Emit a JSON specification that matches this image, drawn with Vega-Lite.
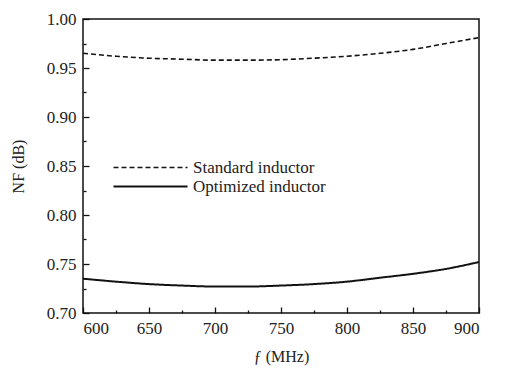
{
  "$schema": "https://vega.github.io/schema/vega-lite/v6.json",
  "width": 396,
  "height": 294,
  "autosize": {"type": "none"},
  "padding": {"left": 83, "top": 19, "right": 35, "bottom": 62},
  "background": "white",
  "config": {
    "view": {"stroke": "#111", "strokeWidth": 1.5},
    "font": "Liberation Serif",
    "axis": {"grid": false, "domain": false, "labelFont": "Liberation Serif", "titleFont": "Liberation Serif", "labelFontSize": 17, "titleFontSize": 16, "labelColor": "#222", "titleColor": "#222", "titleFontWeight": "normal", "tickColor": "#111", "tickWidth": 1.3}
  },
  "data": {"values": [
    {"f": 600, "nf": 0.965, "s": "Standard inductor"},
    {"f": 625, "nf": 0.962, "s": "Standard inductor"},
    {"f": 650, "nf": 0.960, "s": "Standard inductor"},
    {"f": 675, "nf": 0.959, "s": "Standard inductor"},
    {"f": 700, "nf": 0.958, "s": "Standard inductor"},
    {"f": 725, "nf": 0.958, "s": "Standard inductor"},
    {"f": 750, "nf": 0.9585, "s": "Standard inductor"},
    {"f": 775, "nf": 0.960, "s": "Standard inductor"},
    {"f": 800, "nf": 0.962, "s": "Standard inductor"},
    {"f": 825, "nf": 0.965, "s": "Standard inductor"},
    {"f": 850, "nf": 0.969, "s": "Standard inductor"},
    {"f": 875, "nf": 0.975, "s": "Standard inductor"},
    {"f": 900, "nf": 0.981, "s": "Standard inductor"},
    {"f": 600, "nf": 0.735, "s": "Optimized inductor"},
    {"f": 625, "nf": 0.732, "s": "Optimized inductor"},
    {"f": 650, "nf": 0.7295, "s": "Optimized inductor"},
    {"f": 675, "nf": 0.728, "s": "Optimized inductor"},
    {"f": 700, "nf": 0.727, "s": "Optimized inductor"},
    {"f": 725, "nf": 0.727, "s": "Optimized inductor"},
    {"f": 750, "nf": 0.728, "s": "Optimized inductor"},
    {"f": 775, "nf": 0.7295, "s": "Optimized inductor"},
    {"f": 800, "nf": 0.732, "s": "Optimized inductor"},
    {"f": 825, "nf": 0.736, "s": "Optimized inductor"},
    {"f": 850, "nf": 0.740, "s": "Optimized inductor"},
    {"f": 875, "nf": 0.745, "s": "Optimized inductor"},
    {"f": 900, "nf": 0.752, "s": "Optimized inductor"}
  ]},
  "mark": {"type": "line", "interpolate": "monotone", "color": "#111"},
  "encoding": {
    "x": {"field": "f", "type": "quantitative", "scale": {"domain": [600, 900], "nice": false, "zero": false},
      "axis": {"title": "ƒ (MHz)", "values": [600,625,650,675,700,725,750,775,800,825,850,875,900],
        "labelFont": "Liberation Serif", "titleFont": "Liberation Serif",
        "labelExpr": "datum.value % 50 === 0 ? datum.label : ''",
        "tickSize": {"condition": {"test": "datum.value % 50 === 0", "value": -6}, "value": -3},
        "labelPadding": 13, "titlePadding": 12}},
    "y": {"field": "nf", "type": "quantitative", "scale": {"domain": [0.7, 1.0], "nice": false, "zero": false},
      "axis": {"title": "NF (dB)", "format": ".2f", "values": [0.7,0.725,0.75,0.775,0.8,0.825,0.85,0.875,0.9,0.925,0.95,0.975,1.0],
        "labelFont": "Liberation Serif", "titleFont": "Liberation Serif",
        "labelExpr": "abs(datum.value*1000 % 50) < 0.001 || abs(datum.value*1000 % 50 - 50) < 0.001 ? format(datum.value, '.2f') : ''",
        "tickSize": {"condition": {"test": "abs(datum.value*1000 % 50) < 0.001 || abs(datum.value*1000 % 50 - 50) < 0.001", "value": -6}, "value": -3},
        "labelPadding": 13, "titlePadding": 20}},
    "strokeDash": {"field": "s", "type": "nominal", "scale": {"domain": ["Standard inductor", "Optimized inductor"], "range": [[5, 3], [1, 0]]},
      "legend": {"title": null, "orient": "none", "legendX": 59, "legendY": 140, "symbolType": "M-37,0H37", "symbolSize": 4, "symbolStrokeColor": "#111", "symbolStrokeWidth": 2, "labelFontSize": 17, "labelFont": "Liberation Serif", "labelColor": "#222", "rowPadding": 1, "labelOffset": 34}},
    "strokeWidth": {"field": "s", "type": "nominal", "scale": {"domain": ["Standard inductor", "Optimized inductor"], "range": [1.6, 2]}, "legend": null}
  }
}
